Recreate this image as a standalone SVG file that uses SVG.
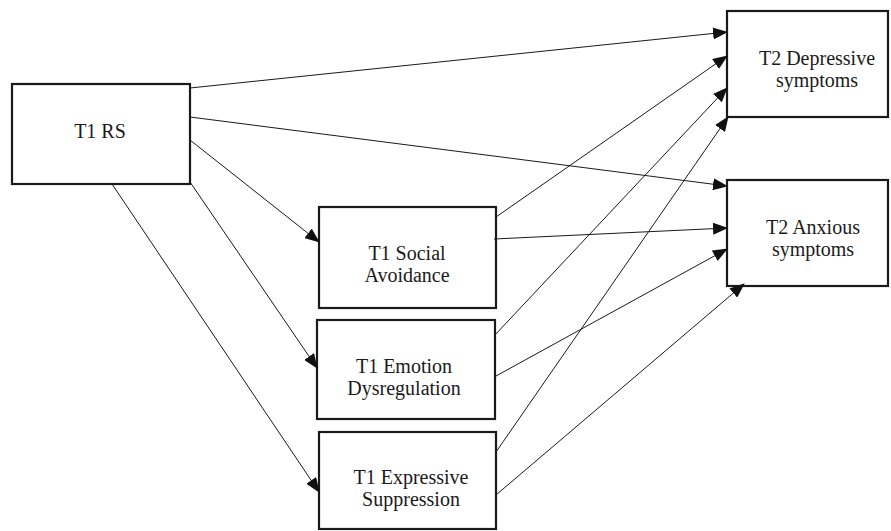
<svg xmlns="http://www.w3.org/2000/svg" width="891" height="531" viewBox="0 0 891 531">
<style>
.box{fill:#fff;stroke:#1a1a1a;stroke-width:2.2}
.t{font-family:"Liberation Serif","Times New Roman",serif;font-size:20px;fill:#1a1a1a;text-anchor:middle}
.e{stroke:#1a1a1a;stroke-width:1;fill:none;marker-end:url(#ah)}
</style>
<defs>
<marker id="ah" markerUnits="userSpaceOnUse" markerWidth="15" markerHeight="12" viewBox="0 0 15 12" refX="14" refY="6" orient="auto">
<path d="M0,0 L15,6 L0,12 Z" fill="#111"/>
</marker>
</defs>
<rect width="891" height="531" fill="#fff"/>
<g id="rs"><rect class="box" x="12" y="84" width="178" height="100"/><text class="t" x="100" y="138">T1 RS</text></g>
<g id="sa"><rect class="box" x="319" y="207" width="177" height="101"/><text class="t" x="407" y="260">T1 Social</text><text class="t" x="407" y="282">Avoidance</text></g>
<g id="ed"><rect class="box" x="317" y="320" width="178" height="99"/><text class="t" x="404" y="373">T1 Emotion</text><text class="t" x="404" y="395">Dysregulation</text></g>
<g id="es"><rect class="box" x="319" y="432" width="177" height="97"/><text class="t" x="411" y="484">T1 Expressive</text><text class="t" x="411" y="506">Suppression</text></g>
<g id="dep"><rect class="box" x="727" y="11" width="161" height="106"/><text class="t" x="817" y="65">T2 Depressive</text><text class="t" x="817" y="87">symptoms</text></g>
<g id="anx"><rect class="box" x="727" y="180" width="161" height="106"/><text class="t" x="813" y="234">T2 Anxious</text><text class="t" x="813" y="256">symptoms</text></g>
<g id="edges">
<line class="e" x1="190" y1="88" x2="727" y2="32"/>
<line class="e" x1="190" y1="117" x2="727" y2="186"/>
<line class="e" x1="190" y1="140" x2="319" y2="242"/>
<line class="e" x1="190" y1="182" x2="317" y2="368"/>
<line class="e" x1="112" y1="184" x2="319" y2="492"/>
<line class="e" x1="496" y1="217" x2="727" y2="56"/>
<line class="e" x1="494" y1="239" x2="727" y2="228"/>
<line class="e" x1="494" y1="336" x2="727" y2="88"/>
<line class="e" x1="496" y1="376" x2="727" y2="249"/>
<line class="e" x1="496" y1="452" x2="728" y2="117"/>
<line class="e" x1="496" y1="495" x2="744" y2="284"/>
</g>
</svg>
